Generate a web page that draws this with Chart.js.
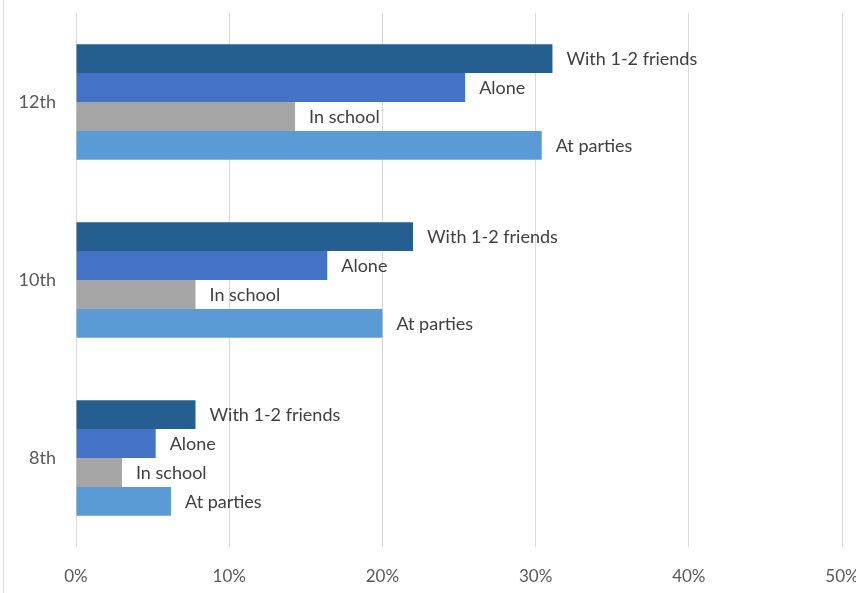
<!DOCTYPE html>
<html>
<head>
<meta charset="utf-8">
<script src="https://cdn.jsdelivr.net/npm/chart.js@4"></script>
<style>
  html, body { margin: 0; padding: 0; background: #fff; overflow: hidden; }
  #wrap { position: relative; width: 856px; height: 593px; }
  #frame { position: absolute; left: 3px; top: 0; width: 1px; height: 593px; background: #d9d9d9; }
  canvas { position: absolute; left: 0; top: 0; }
</style>
</head>
<body>
<div id="wrap">
  <canvas id="c" width="856" height="593"></canvas>
  <div id="frame"></div>
</div>
<script>
// Grades, top to bottom
const grades = ['12th', '10th', '8th'];
// Share of students (%) by setting
const withFriends = [31.1, 22.0, 7.8];
const alone = [25.4, 16.4, 5.2];
const inSchool = [14.3, 7.8, 3.0];
const atParties = [30.4, 20.0, 6.2];
const seriesNames = ['With 1-2 friends', 'Alone', 'In school', 'At parties'];
const tickValues = [0, 10, 20, 30, 40, 50];

const FONT = 'Lato, "Open Sans", sans-serif';

// Series name written just past the end of each bar
const barNameLabels = {
  id: 'barNameLabels',
  afterDatasetsDraw(chart) {
    const ctx = chart.ctx;
    ctx.save();
    ctx.font = '18px ' + FONT;
    ctx.fillStyle = '#404040';
    ctx.textBaseline = 'middle';
    ctx.textAlign = 'left';
    chart.data.datasets.forEach((ds, i) => {
      const meta = chart.getDatasetMeta(i);
      meta.data.forEach(el => {
        ctx.fillText(ds.label, el.x + 14, el.y + 1);
      });
    });
    ctx.restore();
  }
};

new Chart(document.getElementById('c'), {
  type: 'bar',
  data: {
    labels: grades,
    datasets: [
      { label: seriesNames[0], data: withFriends, backgroundColor: '#255e91' },
      { label: seriesNames[1], data: alone, backgroundColor: '#4472c4' },
      { label: seriesNames[2], data: inSchool, backgroundColor: '#a5a5a5' },
      { label: seriesNames[3], data: atParties, backgroundColor: '#5b9bd5' }
    ]
  },
  options: {
    indexAxis: 'y',
    responsive: false,
    animation: false,
    layout: { padding: { top: 13, right: 14, bottom: 0, left: 0 } },
    datasets: { bar: { categoryPercentage: 0.65, barPercentage: 1.0, borderWidth: 0 } },
    plugins: { legend: { display: false }, tooltip: { enabled: false } },
    scales: {
      x: {
        min: 0,
        max: 50,
        afterBuildTicks(scale) { scale.ticks = tickValues.map(v => ({ value: v })); },
        afterFit(scale) {
          scale.paddingLeft = 0; scale.paddingRight = 0;
          scale.paddingTop = 0; scale.paddingBottom = 0;
          scale.height = 46;
        },
        grid: { color: '#d9d9d9', lineWidth: 1, drawTicks: false },
        border: { display: false },
        ticks: {
          padding: 19,
          color: '#595959',
          font: { family: FONT, size: 17 },
          maxRotation: 0,
          callback: v => v + '%'
        }
      },
      y: {
        afterFit(scale) {
          scale.paddingTop = 0; scale.paddingBottom = 0;
          scale.paddingLeft = 0; scale.paddingRight = 0;
          scale.width = 76;
        },
        grid: { display: false, drawTicks: false },
        border: { display: false },
        ticks: {
          padding: 20,
          color: '#595959',
          font: { family: FONT, size: 18 }
        }
      }
    }
  },
  plugins: [barNameLabels]
});
</script>
</body>
</html>
